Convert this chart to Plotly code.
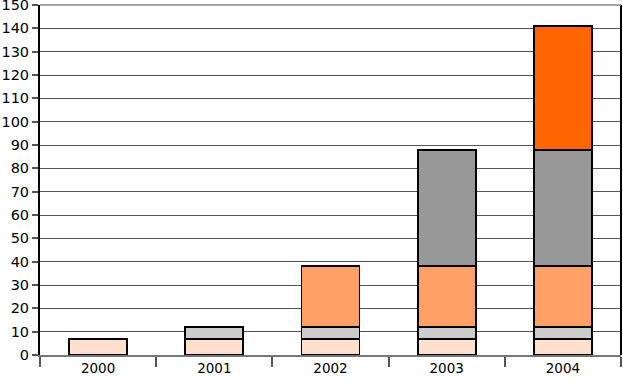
import plotly.graph_objects as go

years = ["2000", "2001", "2002", "2003", "2004"]
s1 = [7, 7, 7, 7, 7]
s2 = [0, 5, 5, 5, 5]
s3 = [0, 0, 26, 26, 26]
s4 = [0, 0, 0, 50, 50]
s5 = [0, 0, 0, 0, 53]
y_ticks = list(range(0, 151, 10))

colors = ["#FFE0CC", "#CCCCCC", "#FFA066", "#999999", "#FF6600"]
fig = go.Figure()
for vals, c in zip([s1, s2, s3, s4, s5], colors):
    xs = [y for y, v in zip(years, vals) if v > 0]
    vs = [v for v in vals if v > 0]
    fig.add_trace(go.Bar(x=xs, y=vs, marker=dict(color=c, line=dict(color="black", width=1.8)),
                         width=0.5, showlegend=False, hoverinfo="skip"))

fig.update_layout(
    barmode="stack", width=623, height=382,
    margin=dict(l=40, r=2, t=5, b=27, autoexpand=False),
    plot_bgcolor="white", paper_bgcolor="white",
    font=dict(family="DejaVu Sans", size=14, color="black"),
)
fig.update_xaxes(categoryorder="array", categoryarray=years, tickson="boundaries",
                 ticks="outside", ticklen=10, tickcolor="#555", tickwidth=1.5,
                 showline=True, linecolor="#777", linewidth=1.5, mirror=False,
                 tickfont=dict(size=13.5), showgrid=False, automargin=False)
fig.update_yaxes(range=[0, 150], tickvals=y_ticks, ticks="outside", ticklen=6,
                 tickcolor="#555", tickwidth=1.5, showgrid=True, gridcolor="#555", gridwidth=1.2,
                 showline=True, linecolor="black", linewidth=2, zeroline=False,
                 tickfont=dict(size=14.5), automargin=False, ticklabeloverflow="allow")
fig.add_shape(type="line", xref="paper", yref="paper", x0=1, x1=1, y0=0, y1=1,
              line=dict(color="black", width=2))
fig.add_shape(type="line", xref="paper", yref="paper", x0=0, x1=1, y0=1, y1=1,
              line=dict(color="#888", width=1.5))
fig.write_html("out.html", config={"displayModeBar": False},
               post_script="document.body.style.margin='0';document.body.style.overflow='hidden';")
